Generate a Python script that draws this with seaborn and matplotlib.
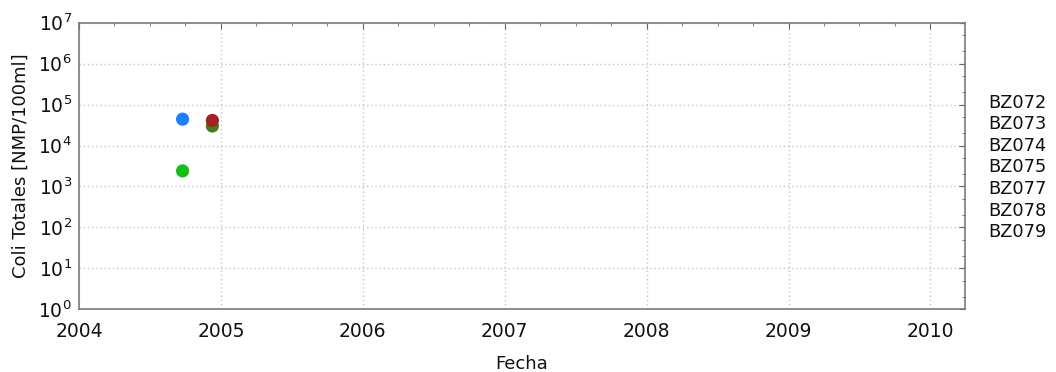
import numpy as np
import pandas as pd
import matplotlib
matplotlib.use('Agg')
import matplotlib.pyplot as plt
import matplotlib.ticker as mticker
from matplotlib.lines import Line2D
import seaborn as sns

# stations and samples (decimal year, NMP/100ml)
stations = ['BZ072', 'BZ073', 'BZ074', 'BZ075', 'BZ077', 'BZ078', 'BZ079']
sample_station = ['BZ072', 'BZ073', 'BZ075', 'BZ074']
sample_date = [2004.73, 2004.73, 2004.94, 2004.94]
sample_value = [4.4e4, 2.4e3, 3.0e4, 4.1e4]
station_colors = ['#1a80ff', '#12c012', '#a32222', '#3f7f1f', '#808080', '#808080', '#808080']
year_ticks = [2004, 2005, 2006, 2007, 2008, 2009, 2010]

df = pd.DataFrame({'Estacion': sample_station, 'Fecha': sample_date, 'Coli': sample_value})

sns.set_style('white')
plt.rcParams['font.family'] = ['DejaVu Sans']

fig = plt.figure(figsize=(10.56, 3.72), dpi=100)
ax = fig.add_axes([0.0748, 0.1685, 0.914 - 0.0748, 0.939 - 0.1685])

palette = dict(zip(stations, station_colors))
sns.scatterplot(data=df, x='Fecha', y='Coli', hue='Estacion', palette=palette,
                s=90, edgecolor='none', legend=False, ax=ax)

ax.set_yscale('log')
ax.set_ylim(1, 1e7)
ax.set_xlim(2004, 2010.245)
ax.set_xticks(year_ticks)
ax.xaxis.set_major_formatter(mticker.FormatStrFormatter('%d'))
ax.xaxis.set_minor_locator(mticker.MultipleLocator(0.25))
ax.yaxis.set_major_locator(mticker.LogLocator(base=10, numticks=10))
ax.yaxis.set_minor_locator(mticker.LogLocator(base=10, subs=[2, 5], numticks=10))
ax.yaxis.set_minor_formatter(mticker.NullFormatter())

ax.grid(True, which='major', linestyle=(0, (1, 2)), color='#c4c4c4', linewidth=1.0)
for sp in ax.spines.values():
    sp.set_color('#7a7a7a')
    sp.set_linewidth(1.2)
ax.tick_params(which='both', direction='in', top=True, right=True,
               color='#666666', labelsize=13.5, labelcolor='#111111')
ax.tick_params(which='major', length=4)
ax.tick_params(axis='x', which='major', pad=9)
ax.tick_params(axis='y', which='major', pad=5)
ax.tick_params(which='minor', length=2.5)

ax.set_xlabel('Fecha', fontsize=13, color='#111111', labelpad=10)
ax.set_ylabel('Coli Totales [NMP/100ml]', fontsize=13, color='#111111', labelpad=6)

handles = [Line2D([], [], linestyle='none', marker='none') for _ in stations]
fig.legend(handles, stations, loc='upper left', bbox_to_anchor=(0.929, 0.767),
           frameon=False, handlelength=0, handletextpad=0, labelspacing=0.2,
           fontsize=12.8, labelcolor='#111111', borderaxespad=0)

fig.savefig('out.png', dpi=100)
